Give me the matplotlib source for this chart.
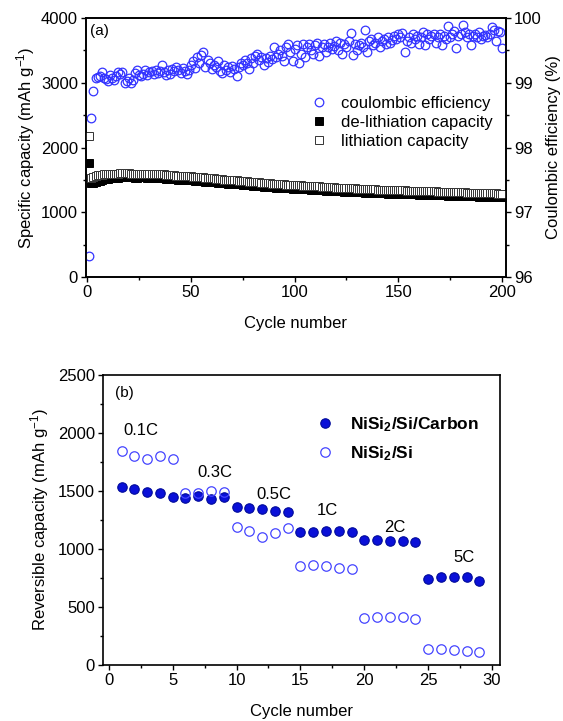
import matplotlib
matplotlib.use("Agg")
import matplotlib.pyplot as plt
from matplotlib.ticker import MultipleLocator

plt.rcParams['font.family'] = ['Liberation Sans', 'DejaVu Sans']
plt.rcParams['mathtext.fontset'] = 'custom'
plt.rcParams['mathtext.rm'] = 'Liberation Sans'
plt.rcParams['mathtext.it'] = 'Liberation Sans'
plt.rcParams['mathtext.bf'] = 'Liberation Sans:bold'

# ---------------- data (a) ----------------
cycles_a = list(range(1, 201))
lithiation = [
    2180,
    1530, 1540, 1560, 1570, 1575, 1580, 1585, 1588, 1590,
    1592, 1594, 1595, 1597, 1598, 1599, 1600, 1600, 1601, 1600,
    1598, 1596, 1594, 1595, 1596, 1597, 1598, 1597, 1596, 1595,
    1594, 1595, 1594, 1592, 1590, 1587, 1584, 1580, 1577, 1574,
    1571, 1569, 1567, 1565, 1563, 1561, 1559, 1557, 1555, 1553,
    1550, 1547, 1545, 1542, 1540, 1537, 1534, 1531, 1528, 1525,
    1522, 1519, 1516, 1513, 1510, 1506, 1503, 1500, 1498, 1496,
    1494, 1492, 1490, 1487, 1484, 1481, 1478, 1475, 1472, 1469,
    1466, 1463, 1460, 1457, 1454, 1451, 1448, 1446, 1444, 1442,
    1440, 1438, 1435, 1432, 1430, 1428, 1426, 1424, 1422, 1420,
    1418, 1416, 1414, 1412, 1410, 1409, 1408, 1406, 1404, 1402,
    1400, 1398, 1396, 1394, 1392, 1390, 1388, 1386, 1384, 1382,
    1380, 1378, 1377, 1376, 1375, 1374, 1372, 1370, 1368, 1366,
    1365, 1364, 1362, 1360, 1358, 1356, 1355, 1354, 1352, 1350,
    1349, 1348, 1347, 1346, 1345, 1344, 1343, 1342, 1341, 1340,
    1339, 1338, 1337, 1336, 1335, 1334, 1333, 1332, 1331, 1330,
    1329, 1328, 1327, 1326, 1325, 1324, 1323, 1322, 1320, 1318,
    1317, 1316, 1315, 1314, 1313, 1312, 1311, 1310, 1309, 1308,
    1307, 1306, 1305, 1304, 1303, 1302, 1300, 1299, 1298, 1297,
    1296, 1295, 1294, 1293, 1292, 1291, 1290, 1289, 1288, 1288,
]
delithiation = [
    1765,
    1450, 1455, 1465, 1478, 1490, 1500, 1508, 1515, 1520,
    1524, 1527, 1530, 1533, 1535, 1537, 1539, 1540, 1541, 1540,
    1539, 1537, 1535, 1536, 1537, 1538, 1538, 1537, 1536, 1535,
    1534, 1535, 1534, 1532, 1530, 1527, 1524, 1521, 1518, 1515,
    1512, 1510, 1508, 1506, 1504, 1502, 1500, 1498, 1496, 1494,
    1491, 1488, 1486, 1483, 1481, 1478, 1475, 1472, 1469, 1466,
    1463, 1460, 1457, 1454, 1451, 1448, 1445, 1442, 1440, 1438,
    1436, 1434, 1432, 1429, 1426, 1423, 1420, 1417, 1414, 1411,
    1408, 1405, 1402, 1399, 1396, 1393, 1390, 1388, 1386, 1384,
    1382, 1380, 1378, 1376, 1374, 1372, 1370, 1368, 1366, 1364,
    1362, 1360, 1358, 1356, 1354, 1353, 1352, 1350, 1348, 1346,
    1344, 1342, 1340, 1338, 1336, 1334, 1332, 1330, 1328, 1326,
    1324, 1322, 1321, 1320, 1319, 1318, 1316, 1314, 1312, 1310,
    1309, 1308, 1306, 1304, 1302, 1300, 1299, 1298, 1296, 1294,
    1293, 1292, 1291, 1290, 1289, 1288, 1287, 1286, 1285, 1284,
    1283, 1282, 1281, 1280, 1279, 1278, 1277, 1276, 1275, 1274,
    1273, 1272, 1271, 1270, 1269, 1268, 1267, 1266, 1264, 1262,
    1261, 1260, 1259, 1258, 1257, 1256, 1255, 1254, 1253, 1252,
    1251, 1250, 1249, 1248, 1247, 1246, 1245, 1244, 1243, 1242,
    1241, 1240, 1239, 1238, 1237, 1236, 1235, 1234, 1233, 1233,
]
coulombic = [
    96.32, 98.45, 98.88, 99.08, 99.09, 99.10, 99.17, 99.08, 99.06, 99.02,
    99.12, 99.08, 99.05, 99.10, 99.16, 99.13, 99.17, 99.00, 99.02, 99.08,
    99.00, 99.05, 99.15, 99.20, 99.12, 99.10, 99.14, 99.19, 99.12, 99.16,
    99.18, 99.13, 99.20, 99.15, 99.18, 99.28, 99.16, 99.12, 99.20, 99.14,
    99.22, 99.18, 99.25, 99.20, 99.15, 99.23, 99.18, 99.13, 99.20, 99.27,
    99.33, 99.23, 99.40, 99.30, 99.43, 99.48, 99.25, 99.35, 99.30, 99.22,
    99.28, 99.25, 99.33, 99.18, 99.15, 99.27, 99.20, 99.24, 99.17, 99.26,
    99.22, 99.10, 99.25, 99.30, 99.28, 99.35, 99.30, 99.22, 99.38, 99.30,
    99.42, 99.45, 99.35, 99.40, 99.28, 99.38, 99.32, 99.42, 99.36, 99.55,
    99.40, 99.45, 99.50, 99.42, 99.33, 99.55, 99.60, 99.48, 99.33, 99.52,
    99.58, 99.30, 99.45, 99.60, 99.40, 99.55, 99.60, 99.50, 99.45, 99.58,
    99.62, 99.42, 99.55, 99.60, 99.48, 99.55, 99.62, 99.52, 99.57, 99.65,
    99.50, 99.62, 99.45, 99.60, 99.55, 99.65, 99.77, 99.43, 99.60, 99.50,
    99.58, 99.62, 99.55, 99.81, 99.48, 99.65, 99.68, 99.58, 99.62, 99.70,
    99.55, 99.65, 99.68, 99.60, 99.70, 99.62, 99.66, 99.72, 99.68, 99.75,
    99.70, 99.77, 99.48, 99.65, 99.70, 99.62, 99.75, 99.68, 99.72, 99.60,
    99.70, 99.78, 99.58, 99.75, 99.68, 99.72, 99.75, 99.62, 99.70, 99.76,
    99.58, 99.72, 99.68, 99.87, 99.70, 99.75, 99.80, 99.54, 99.72, 99.75,
    99.89, 99.78, 99.70, 99.75, 99.58, 99.72, 99.75, 99.70, 99.79, 99.68,
    99.72, 99.74, 99.70, 99.76, 99.86, 99.82, 99.65, 99.80, 99.78, 99.53,
]

# ---------------- data (b) ----------------
cycles_b = list(range(1, 30))
carbon = [1537, 1520, 1495, 1485, 1445, 1440, 1455, 1430, 1450,
          1360, 1355, 1345, 1330, 1322,
          1147, 1150, 1157, 1152, 1150,
          1080, 1075, 1068, 1065, 1063,
          738, 759, 760, 761, 724]
nisi = [1848, 1799, 1779, 1799, 1773,
        1486, 1486, 1503, 1491,
        1193, 1155, 1106, 1135, 1184,
        851, 862, 856, 839, 825,
        408, 414, 417, 417, 397,
        138, 138, 132, 124, 115]
rate_labels = ["0.1C", "0.3C", "0.5C", "1C", "2C", "5C"]
rate_label_x = [2.5, 8.3, 12.9, 17.1, 22.4, 27.8]
rate_label_y = [2020, 1658, 1474, 1330, 1184, 928]

FS = 12
fig = plt.figure(figsize=(5.63, 7.21), dpi=100)

def style(ax):
    for s in ax.spines.values():
        s.set_linewidth(1.2)
    ax.tick_params(which='major', direction='out', length=3.5, width=1.0, labelsize=FS, pad=2.5)
    ax.tick_params(which='minor', direction='out', length=2.2, width=1.0)

# ---------------- panel (a) ----------------
ax1 = fig.add_axes([0.1531, 0.6158, 0.7448, 0.3592])
ax2 = ax1.twinx()
l_del, = ax1.plot(cycles_a, delithiation, linestyle='none', marker='s', markersize=5.4,
                  markerfacecolor='black', markeredgecolor='black', markeredgewidth=0.7,
                  zorder=2)
l_lith, = ax1.plot(cycles_a, lithiation, linestyle='none', marker='s', markersize=5.4,
                   markerfacecolor='white', markeredgecolor='#333333', markeredgewidth=0.7,
                   zorder=3)
l_ce, = ax2.plot(cycles_a, coulombic, linestyle='none', marker='o', markersize=6.2,
                 markerfacecolor='none', markeredgecolor='#3434ff', markeredgewidth=0.9)
ax1.set_xlim(-0.5, 201.7)
ax1.set_ylim(0, 4000)
ax2.set_ylim(96, 100)
ax1.set_xticks([0, 50, 100, 150, 200])
ax1.xaxis.set_minor_locator(MultipleLocator(25))
ax1.set_yticks([0, 1000, 2000, 3000, 4000])
ax1.yaxis.set_minor_locator(MultipleLocator(500))
ax2.set_yticks([96, 97, 98, 99, 100])
ax2.yaxis.set_minor_locator(MultipleLocator(0.5))
style(ax1)
style(ax2)
ax1.set_xlabel('Cycle number', fontsize=FS, labelpad=11)
ax1.set_ylabel('Specific capacity (mAh g$^{-1}$)', fontsize=FS, labelpad=3)
ax2.set_ylabel('Coulombic efficiency (%)', fontsize=FS, labelpad=3)
ax1.text(0.009, 0.975, '(a)', transform=ax1.transAxes, fontsize=11, va='top', ha='left')
leg = ax1.legend([l_ce, l_del, l_lith],
                 ['coulombic efficiency', 'de-lithiation capacity', 'lithiation capacity'],
                 loc='upper left', bbox_to_anchor=(0.531, 0.70), frameon=False,
                 fontsize=FS, handletextpad=0.73, labelspacing=0.25, borderpad=0,
                 borderaxespad=0, handlelength=1.2)
leg.set_zorder(10)

# ---------------- panel (b) ----------------
ax3 = fig.add_axes([0.1837, 0.0777, 0.7039, 0.4022])
h1, = ax3.plot(cycles_b, carbon, linestyle='none', marker='o', markersize=6.8,
               markerfacecolor='#0a10d8', markeredgecolor='#000a9a', markeredgewidth=0.8)
h2, = ax3.plot(cycles_b, nisi, linestyle='none', marker='o', markersize=6.8,
               markerfacecolor='none', markeredgecolor='#4545ff', markeredgewidth=0.9)
for t, x, y in zip(rate_labels, rate_label_x, rate_label_y):
    ax3.text(x, y, t, fontsize=FS, ha='center', va='center')
ax3.set_xlim(-0.42, 30.6)
ax3.set_ylim(0, 2500)
ax3.set_xticks([0, 5, 10, 15, 20, 25, 30])
ax3.xaxis.set_minor_locator(MultipleLocator(2.5))
ax3.set_yticks([0, 500, 1000, 1500, 2000, 2500])
ax3.yaxis.set_minor_locator(MultipleLocator(250))
style(ax3)
ax3.tick_params(which='both', top=False, right=False)
ax3.set_xlabel('Cycle number', fontsize=FS, labelpad=11)
ax3.set_ylabel('Reversible capacity (mAh g$^{-1}$)', fontsize=FS, labelpad=5)
ax3.text(0.029, 0.962, '(b)', transform=ax3.transAxes, fontsize=11, va='top', ha='left')
ax3.legend([h1, h2], ['NiSi$_\\mathbf{2}$/Si/Carbon', 'NiSi$_\\mathbf{2}$/Si'],
           loc='upper left', bbox_to_anchor=(0.529, 0.862), frameon=False,
           prop={'weight': 'bold', 'size': 12.5}, handletextpad=0.75, labelspacing=0.6,
           borderpad=0, borderaxespad=0, handlelength=1.4)

fig.savefig('out.png', dpi=100)
